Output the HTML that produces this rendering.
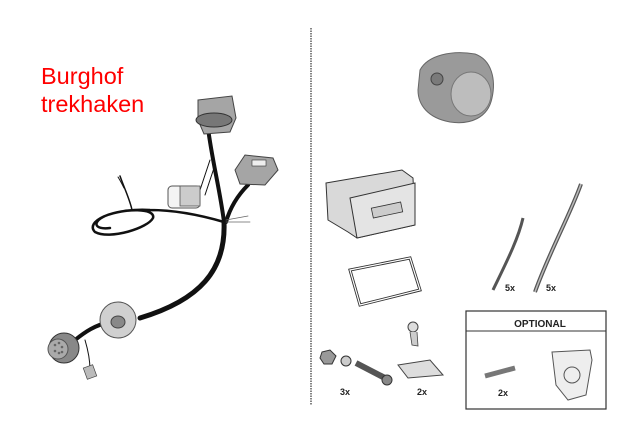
<!DOCTYPE html>
<html><head><style>html,body{margin:0;padding:0;background:#fff}svg{display:block}</style></head>
<body>
<svg width="629" height="431" viewBox="0 0 629 431" xmlns="http://www.w3.org/2000/svg" font-family="Liberation Sans, sans-serif">
<rect width="629" height="431" fill="#fff"/>
<text x="41" y="84" font-size="23.5" fill="#ff0000">Burghof</text>
<text x="41" y="112" font-size="23.5" fill="#ff0000">trekhaken</text>
<!-- cables -->
<g fill="none" stroke="#111" stroke-linecap="round">
<path d="M208,128 C212,160 220,190 224,222" stroke-width="4"/>
<path d="M248,185 C238,195 230,208 226,222" stroke-width="4"/>
<path d="M224,222 C226,270 200,300 140,318" stroke-width="5"/>
<path d="M110,322 C95,325 85,332 75,340" stroke-width="4"/>
<path d="M224,222 C200,215 175,210 150,210 C110,208 85,222 95,232 C110,240 148,228 153,218 C156,208 125,208 105,216 C92,222 94,230 110,228" stroke-width="2.5"/>
<path d="M132,210 C130,200 125,190 120,176" stroke-width="1.5"/>
<path d="M124,188 C122,184 120,180 118,177" stroke-width="1"/>
<path d="M210,160 L200,190 M215,165 L205,195" stroke-width="1"/>
<path d="M226,220 L248,216 M226,222 L250,222" stroke="#666" stroke-width="0.8"/>
<path d="M85,340 C88,350 90,360 90,370" stroke-width="1"/>
</g>
<!-- top connector -->
<path d="M198,100 L232,96 L236,118 L230,132 L204,134 L198,120 Z" fill="#a5a5a5" stroke="#444"/>
<ellipse cx="214" cy="120" rx="18" ry="7" fill="#777" stroke="#333"/>
<!-- right connector -->
<path d="M235,170 L245,155 L273,158 L278,170 L265,185 L240,184 Z" fill="#a5a5a5" stroke="#444"/>
<rect x="252" y="160" width="14" height="6" fill="#eee" stroke="#333" stroke-width="0.6"/>
<!-- white connector -->
<rect x="168" y="186" width="32" height="22" rx="4" fill="#f4f4f4" stroke="#555"/>
<rect x="180" y="186" width="20" height="20" fill="#ccc" stroke="#555" stroke-width="0.8"/>
<!-- flange -->
<ellipse cx="118" cy="320" rx="18" ry="18" fill="#d0d0d0" stroke="#555"/>
<ellipse cx="118" cy="322" rx="7" ry="6" fill="#888" stroke="#444"/>
<!-- round plug -->
<circle cx="64" cy="348" r="15" fill="#888" stroke="#333"/>
<circle cx="58" cy="349" r="10" fill="#aaa" stroke="#555"/>
<g fill="#666"><circle cx="55" cy="345" r="1.3"/><circle cx="59" cy="343" r="1.3"/><circle cx="62" cy="347" r="1.3"/><circle cx="55" cy="351" r="1.3"/><circle cx="59" cy="353" r="1.3"/><circle cx="62" cy="352" r="1.3"/></g>
<rect x="85" y="366" width="10" height="12" fill="#bbb" stroke="#444" stroke-width="0.7" transform="rotate(-20 90 372)"/>
<!-- divider -->
<line x1="311" y1="28" x2="311" y2="405" stroke="#333" stroke-width="1.2" stroke-dasharray="1.5 1"/>
<!-- socket -->
<path d="M420,70 C428,55 452,50 475,54 C492,60 496,80 492,98 C488,118 470,125 450,122 C428,118 418,105 418,90 Z" fill="#9a9a9a" stroke="#666"/>
<ellipse cx="471" cy="94" rx="20" ry="22" fill="#bdbdbd" stroke="#777"/>
<circle cx="437" cy="79" r="6" fill="#7a7a7a" stroke="#444"/>
<!-- control box -->
<path d="M326,183 L402,170 L413,178 L415,225 L357,238 L348,232 L328,220 Z" fill="#d9d9d9" stroke="#333"/>
<path d="M350,198 L415,183 L415,225 L357,238 Z" fill="#e4e4e4" stroke="#333"/>
<rect x="372" y="205" width="30" height="10" fill="#ccc" stroke="#333" stroke-width="0.8" transform="rotate(-12 387 210)"/>
<!-- frame -->
<path d="M350,270 L410,258 L420,290 L360,305 Z" fill="none" stroke="#333" stroke-width="3"/>
<path d="M350,270 L410,258 L420,290 L360,305 Z" fill="none" stroke="#fff" stroke-width="1.2"/>
<!-- ties -->
<path d="M523,218 C518,240 505,265 493,290" stroke="#555" stroke-width="3" fill="none"/>
<path d="M581,184 C570,215 548,255 535,292" stroke="#555" stroke-width="4" fill="none"/>
<path d="M581,184 C570,215 548,255 535,292" stroke="#bbb" stroke-width="1.5" fill="none"/>
<text x="505" y="291" font-size="9" font-weight="bold" fill="#222">5x</text>
<text x="546" y="291" font-size="9" font-weight="bold" fill="#222">5x</text>
<!-- small parts -->
<polygon points="322,352 330,350 336,356 332,364 324,364 320,358" fill="#999" stroke="#333"/>
<circle cx="346" cy="361" r="5" fill="#ccc" stroke="#333"/>
<path d="M356,363 L385,378" stroke="#555" stroke-width="6"/>
<circle cx="387" cy="380" r="5" fill="#888" stroke="#333"/>
<text x="340" y="395" font-size="9" font-weight="bold" fill="#222">3x</text>
<circle cx="413" cy="327" r="5" fill="#ddd" stroke="#444"/>
<path d="M410,332 L412,345 L418,346 L417,332" fill="#ccc" stroke="#444" stroke-width="0.8"/>
<path d="M398,365 L430,360 L443,375 L408,378 Z" fill="#ddd" stroke="#444"/>
<text x="417" y="395" font-size="9" font-weight="bold" fill="#222">2x</text>
<!-- optional box -->
<rect x="466" y="311" width="140" height="98" fill="none" stroke="#333" stroke-width="1.2"/>
<line x1="466" y1="331" x2="606" y2="331" stroke="#333"/>
<text x="540" y="327" font-size="10" font-weight="bold" fill="#222" text-anchor="middle">OPTIONAL</text>
<path d="M485,376 L515,368" stroke="#777" stroke-width="5"/>
<text x="498" y="396" font-size="9" font-weight="bold" fill="#222">2x</text>
<path d="M552,352 L590,350 L592,360 L586,395 L568,400 L556,385 Z" fill="#eee" stroke="#555"/>
<circle cx="572" cy="375" r="8" fill="none" stroke="#555"/>
</svg>
</body></html>
